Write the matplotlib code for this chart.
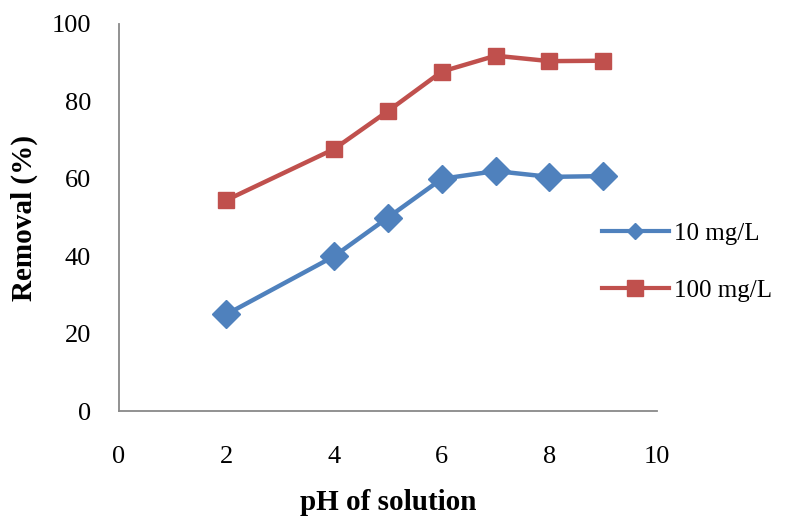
import numpy as np
import matplotlib
matplotlib.use('Agg')
import matplotlib.pyplot as plt

plt.rcParams['font.family'] = ['Liberation Serif', 'DejaVu Serif']

# pH of solution
ph = [2, 4, 5, 6, 7, 8, 9]
# removal (%) for the two initial concentrations
rem_10 = [25, 40, 50, 60, 62, 60.5, 60.7]
rem_100 = [54.5, 67.7, 77.5, 87.7, 91.8, 90.4, 90.5]

xticks = [0, 2, 4, 6, 8, 10]
yticks = [0, 20, 40, 60, 80, 100]

blue = '#4F81BD'
red = '#C0504D'

fig = plt.figure(figsize=(7.87, 5.21), dpi=100)
ax = fig.add_axes([0.151, 0.211, 0.684, 0.743])

ax.plot(ph, rem_10, color=blue, lw=3.2, marker='D', ms=14, label='10 mg/L')
ax.plot(ph, rem_100, color=red, lw=3.2, marker='s', ms=12, label='100 mg/L')

ax.set_xlim(0, 10)
ax.set_ylim(0, 100)
ax.set_xticks(xticks)
ax.set_yticks(yticks)
ax.tick_params(length=0, labelsize=19)
ax.tick_params(axis='y', pad=20)
ax.tick_params(axis='x', pad=25)

for s in ['top', 'right']:
    ax.spines[s].set_visible(False)
for s in ['left', 'bottom']:
    ax.spines[s].set_color('#898989')
    ax.spines[s].set_linewidth(1.3)

ax.set_xlabel('pH of solution', fontsize=21, fontweight='bold', labelpad=15)
ax.set_ylabel('Removal (%)', fontsize=21, fontweight='bold', labelpad=10)

# legend with smaller markers, as in the original
h1, = ax.plot([], [], color=blue, lw=3, marker='D', ms=8)
h2, = ax.plot([], [], color=red, lw=3, marker='s', ms=11)
ax.legend([h1, h2], ['10 mg/L', '100 mg/L'], loc='center left',
          bbox_to_anchor=(0.855, 0.385), frameon=False, fontsize=18,
          handlelength=2.7, labelspacing=1.4, handletextpad=0.2)

plt.savefig('out.png', dpi=100)
